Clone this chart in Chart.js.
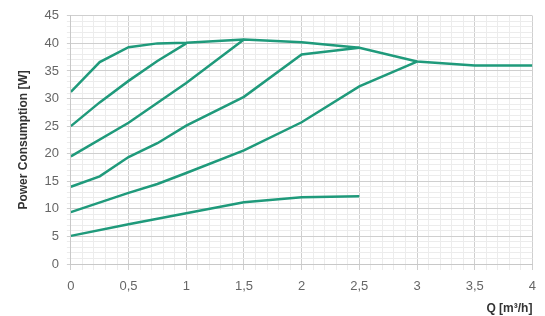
<!DOCTYPE html>
<html>
<head>
<meta charset="utf-8">
<script src="https://cdn.jsdelivr.net/npm/chart.js@4/dist/chart.umd.min.js"></script>
<style>
  html, body { margin: 0; padding: 0; background: #fff; }
  #wrap { width: 545px; height: 316px; }
</style>
</head>
<body>
<div id="wrap"><canvas id="pumpChart" width="545" height="316"></canvas></div>
<script>
// flow points (m³/h) and power (W) for each curve
var qMax = [0, 0.25, 0.5, 0.75, 1, 1.5, 2, 2.5, 3, 3.5, 4];
var pMax = [31.2, 36.6, 39.3, 40, 40.1, 40.7, 40.2, 39.2, 36.7, 36, 36];

var q2 = [0, 0.25, 0.5, 0.75, 1];
var p2 = [25, 29.3, 33.2, 36.8, 40];

var q3 = [0, 0.5, 1, 1.5];
var p3 = [19.5, 25.6, 32.8, 40.7];

var q4 = [0, 0.25, 0.5, 0.75, 1, 1.5, 2, 2.5];
var p4 = [14, 15.9, 19.4, 21.9, 25.1, 30.3, 38, 39.2];

var q5 = [0, 0.5, 0.75, 1, 1.5, 2, 2.5, 3];
var p5 = [9.4, 12.9, 14.5, 16.5, 20.6, 25.7, 32.2, 36.7];

var qMin = [0, 0.5, 1, 1.5, 2, 2.5];
var pMin = [5.1, 7.2, 9.2, 11.2, 12.1, 12.3];

var xTickLabels = ['0', '0,5', '1', '1,5', '2', '2,5', '3', '3,5', '4'];
var yTickLabels = ['0', '5', '10', '15', '20', '25', '30', '35', '40', '45'];

var lineColor = '#1f9a7b';

function pts(q, p) {
    var out = [];
    for (var i = 0; i < q.length; i++) out.push({ x: q[i], y: p[i] });
    return out;
}

function curve(q, p) {
    return {
        data: pts(q, p),
        borderColor: lineColor,
        borderWidth: 2.5,
        pointRadius: 0,
        tension: 0,
        fill: false
    };
}

function isMajor(v, step) {
    var r = v / step;
    return Math.abs(r - Math.round(r)) < 1e-6;
}

const ctx = document.getElementById('pumpChart').getContext('2d');

var myChart = new Chart(ctx, {
    type: 'line',
    data: {
        datasets: [
            curve(qMax, pMax),
            curve(q2, p2),
            curve(q3, p3),
            curve(q4, p4),
            curve(q5, p5),
            curve(qMin, pMin)
        ]
    },
    options: {
        responsive: false,
        animation: false,
        layout: { padding: { left: 16, right: 0, top: 12, bottom: 0 } },
        plugins: {
            legend: { display: false },
            tooltip: { enabled: false }
        },
        scales: {
            x: {
                type: 'linear',
                min: 0,
                max: 4,
                border: { color: '#c8c8c8' },
                ticks: {
                    stepSize: 0.1,
                    autoSkip: false,
                    maxRotation: 0,
                    color: '#666',
                    font: { family: 'Liberation Sans', size: 13 },
                    padding: 9,
                    callback: function (v) {
                        if (!isMajor(v, 0.5)) return '';
                        return xTickLabels[Math.round(v / 0.5)];
                    }
                },
                grid: {
                    color: function (c) {
                        return isMajor(c.tick.value, 0.5) ? '#cfcfcf' : '#ececec';
                    },
                    tickLength: 6
                },
                title: {
                    display: true,
                    text: 'Q [m³/h]',
                    align: 'end',
                    color: '#333',
                    font: { family: 'Liberation Sans', size: 12, weight: 'bold' },
                    padding: { top: -2, bottom: 0 }
                }
            },
            y: {
                min: 0,
                max: 45,
                border: { color: '#c8c8c8' },
                ticks: {
                    stepSize: 1,
                    autoSkip: false,
                    color: '#666',
                    font: { family: 'Liberation Sans', size: 13 },
                    padding: 8,
                    callback: function (v) {
                        if (!isMajor(v, 5)) return '';
                        return yTickLabels[Math.round(v / 5)];
                    }
                },
                grid: {
                    color: function (c) {
                        return isMajor(c.tick.value, 5) ? '#cfcfcf' : '#ececec';
                    },
                    tickLength: 4
                },
                title: {
                    display: true,
                    text: 'Power Consumption [W]',
                    color: '#333',
                    font: { family: 'Liberation Sans', size: 12, weight: 'bold' },
                    padding: { top: 0, bottom: 6 }
                }
            }
        }
    }
});
</script>
</body>
</html>
